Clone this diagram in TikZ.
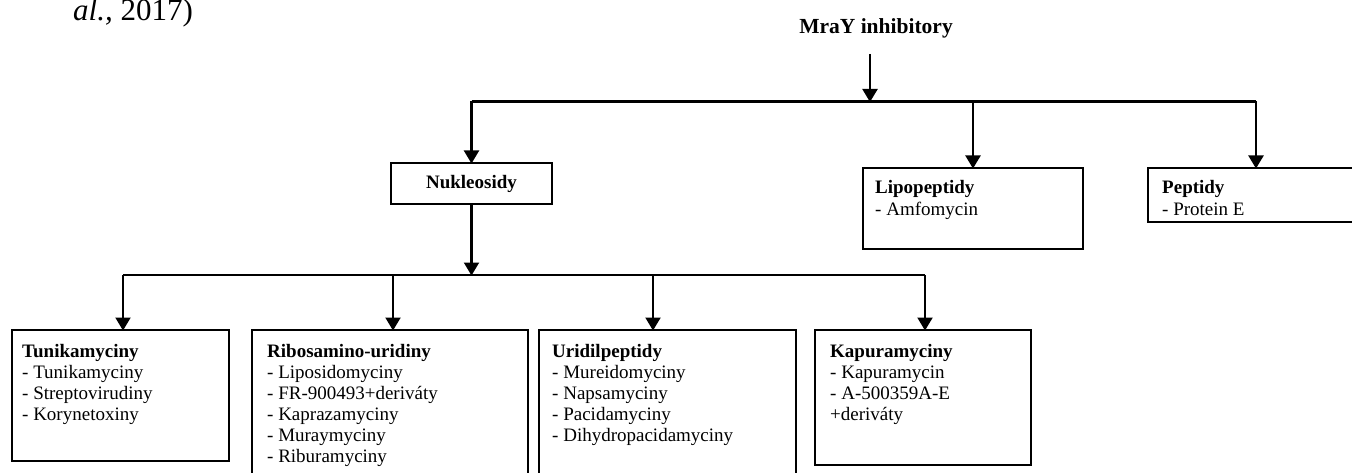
\documentclass[tikz,border=0pt]{standalone}
\usepackage{fontspec}
\setmainfont{Liberation Serif}
\usetikzlibrary{arrows.meta,positioning}
\begin{document}
\begin{tikzpicture}[x=1pt,y=-1pt,
  line/.style={line width=2.2pt,draw=black},
  arr/.style={line, -{Triangle[width=15pt,length=13pt]}, shorten >=-0.5pt},
  box/.style={draw=black, line width=2.2pt, rectangle, anchor=north west, inner sep=0pt, outer sep=0pt, fill=white},
  lbl/.style={anchor=base west, inner sep=0pt, font=\fontsize{19}{21}\selectfont},
  ttl/.style={inner sep=0pt, font=\fontsize{19}{21}\selectfont\bfseries}
]
\useasboundingbox (0,0) rectangle (1352,473);
\clip (0,0) rectangle (1352,473);
\fill[white] (0,0) rectangle (1352,473);

% citation fragment
\node[anchor=base west, inner sep=0pt, font=\fontsize{31}{33}\selectfont] (cite) at (73,21) {\textit{al.,} 2017)};

% title
\node[ttl, font=\fontsize{21.5}{24}\selectfont\bfseries] (mray) at (876,28) {MraY inhibitory};
\coordinate (mstart) at (870,54);
\coordinate (top) at (870,101.5);

% level 1 boxes
\node[box, minimum width=161pt, minimum height=41pt] (nuk) at (391,163) {};
\node[ttl] (nuktxt) at (nuk.center) {Nukleosidy};
\node[box, minimum width=220pt, minimum height=81pt] (lipo) at (863,168) {};
\node[box, minimum width=216pt, minimum height=54pt] (pep) at (1148,168) {};

\node[lbl] (lipotxt) at (875,194) {\begin{tabular}[t]{@{}l@{}}\textbf{Lipopeptidy}\\- Amfomycin\end{tabular}};
\node[lbl] (peptxt) at (1162,194) {\begin{tabular}[t]{@{}l@{}}\textbf{Peptidy}\\- Protein E\end{tabular}};

% level 2 boxes
\node[box, minimum width=217pt, minimum height=131pt] (tun) at (12,330) {};
\node[box, minimum width=276pt, minimum height=170pt] (ribo) at (252,330) {};
\node[box, minimum width=257pt, minimum height=170pt] (uri) at (539,330) {};
\node[box, minimum width=216pt, minimum height=135pt] (kap) at (815,330) {};

\node[lbl] (tuntxt) at (22,357) {\begin{tabular}[t]{@{}l@{}}\textbf{Tunikamyciny}\\- Tunikamyciny\\- Streptovirudiny\\- Korynetoxiny\end{tabular}};
\node[lbl] (ribotxt) at (267,357) {\begin{tabular}[t]{@{}l@{}}\textbf{Ribosamino-uridiny}\\- Liposidomyciny\\- FR-900493+deriváty\\- Kaprazamyciny\\- Muraymyciny\\- Riburamyciny\end{tabular}};
\node[lbl] (uritxt) at (552,357) {\begin{tabular}[t]{@{}l@{}}\textbf{Uridilpeptidy}\\- Mureidomyciny\\- Napsamyciny\\- Pacidamyciny\\- Dihydropacidamyciny\end{tabular}};
\node[lbl] (kaptxt) at (830,357) {\begin{tabular}[t]{@{}l@{}}\textbf{Kapuramyciny}\\- Kapuramycin\\- A-500359A-E\\+deriváty\end{tabular}};

% connectors level 0 -> 1
\draw[arr] (mstart) -- (top);
\draw[line] (top -| nuk.north) -- (top -| pep.north);
\draw[arr] (top -| nuk.north) -- (nuk.north);
\draw[arr] (top -| lipo.north) -- (lipo.north);
\draw[arr] (top -| pep.north) -- (pep.north);

% connectors level 1 -> 2
\coordinate (bar) at (469,275);
\coordinate (b1) at (123,275);
\coordinate (b2) at (393,275);
\coordinate (b3) at (653,275);
\coordinate (b4) at (925,275);
\draw[arr] (nuk.south) -- (nuk.south |- bar);
\draw[line] (b1) -- (b4);
\draw[arr] (b1) -- (b1 |- tun.north);
\draw[arr] (b2) -- (b2 |- ribo.north);
\draw[arr] (b3) -- (b3 |- uri.north);
\draw[arr] (b4) -- (b4 |- kap.north);
\end{tikzpicture}
\end{document}
